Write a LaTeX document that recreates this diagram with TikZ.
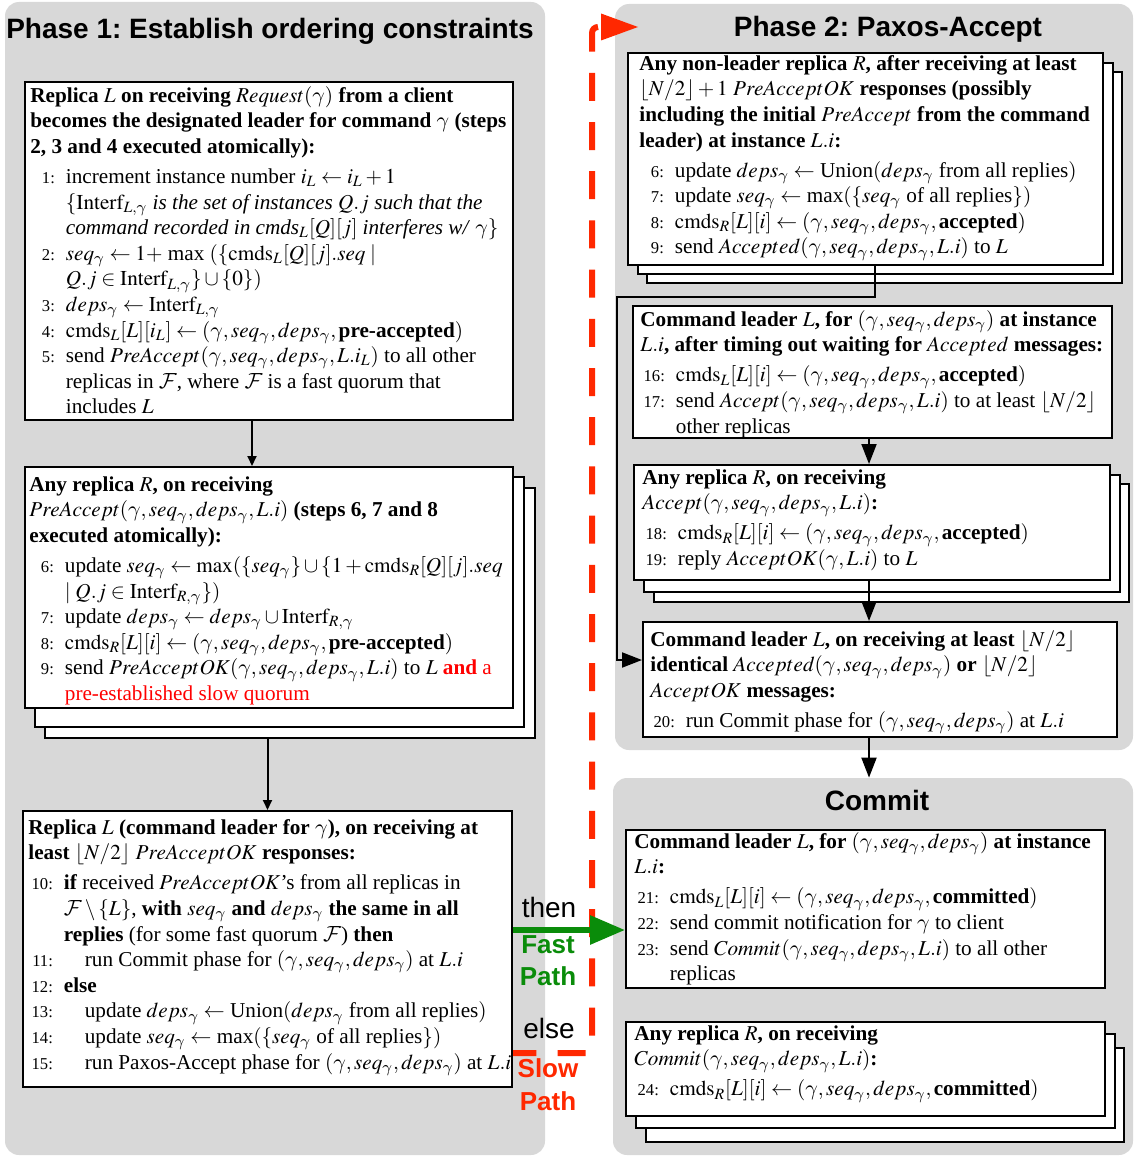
\documentclass[tikz,border=0pt]{standalone}
\usepackage{mathptmx}
\usepackage{fontspec}
\setmainfont{Liberation Serif}
\newfontfamily\hsans{Liberation Sans}
\usetikzlibrary{fit,arrows.meta}

% Computer Modern calligraphic letters and gamma
\DeclareMathAlphabet{\mathcal}{OMS}{cmsy}{m}{n}
\DeclareSymbolFont{cmletters}{OML}{cmm}{m}{it}
\DeclareMathSymbol{\gamma}{\mathord}{cmletters}{"0D}

\definecolor{panelgray}{RGB}{216,216,216}
\definecolor{slowred}{RGB}{255,40,0}
\definecolor{fastgreen}{RGB}{10,140,10}

\newcommand\bodyfont{\fontsize{10.6}{12.8}\selectfont}
\newcommand\numfont{\fontsize{8.3}{10}\selectfont}
% step number, right aligned, followed by the step text
\newcommand\nm[1]{\makebox[12.25pt][r]{\numfont #1}\hspace{5.5pt}}
% continuation line of a step
\newcommand\ct{\hspace*{17.75pt}}
% nested step inside if/else
\newcommand\nst{\hspace*{10.5pt}}
\newcommand\cmds{\mathrm{cmds}}
\newcommand\intf{\mathrm{Interf}}

\tikzset{
  panel/.style={fill=panelgray, rounded corners=7pt, inner sep=0pt},
  box/.style={draw, fill=white, line width=1pt, inner sep=0pt},
  txt/.style={anchor=north west, align=left, inner sep=0pt, font=\bodyfont},
  ptitle/.style={anchor=base, inner sep=0pt, font=\hsans\bfseries\fontsize{14}{16}\selectfont\frenchspacing},
  sidelbl/.style={anchor=base, inner sep=0pt, font=\hsans\fontsize{14}{16}\selectfont},
  pathlbl/.style={anchor=base, inner sep=0pt, font=\hsans\bfseries\fontsize{13}{16}\selectfont},
  arrS/.style={line width=1pt, -{Triangle[length=5pt,width=4.5pt]}},
  arrL/.style={line width=1pt, -{Triangle[length=10pt,width=7.5pt]}},
  fastarr/.style={draw=fastgreen, line width=3pt, -{Triangle[length=17.5pt,width=14pt]}},
  slowline/.style={draw=slowred, line width=3pt, dash pattern=on 14pt off 10.6pt,
    rounded corners=3pt},
}

\begin{document}
\begin{tikzpicture}[x=0.5pt,y=-0.5pt]
\useasboundingbox (0,0) rectangle (1135,1156);

% phase panels
\node[panel, fit={(5,2)(545,1155)}] (P1) {};
\node[panel, fit={(615,4)(1133,750)}] (P2) {};
\node[panel, fit={(613,778)(1133,1155)}] (P3) {};

\node[ptitle] (T1) at (270,39) {Phase 1: Establish ordering constraints};
\node[ptitle] (T2) at (888,37) {Phase 2: Paxos-Accept};
\node[ptitle] (T3) at (877,810) {Commit};

% ---------- Phase 1 ----------
\node[box, fit={(25,82)(513,420)}] (A) {};
\node[txt] (At) at (30,84) {\strut\textbf{Replica} $L$ \textbf{on receiving} $Request(\gamma)$ \textbf{from a client}\\
\textbf{becomes the designated leader for command} $\gamma$ \textbf{(steps}\\
\textbf{2, 3 and 4 executed atomically):}\\[2.2pt]
\nm{1:}increment instance number $i_L \leftarrow i_L+1$\\
\ct$\{\intf_{L,\gamma}$ \textit{is the set of instances} $Q.j$ \textit{such that the}\\
\ct\textit{command recorded in cmds}$_L[Q][j]$ \textit{interferes w/} $\gamma\}$\\
\nm{2:}$seq_\gamma \leftarrow 1+$ max $(\{\cmds_L[Q][j].seq \mid$\\
\ct$Q.j \in \intf_{L,\gamma}\} \cup \{0\})$\\
\nm{3:}$deps_\gamma \leftarrow \intf_{L,\gamma}$\\
\nm{4:}$\cmds_L[L][i_L] \leftarrow (\gamma, seq_\gamma, deps_\gamma,\,$\textbf{pre-accepted}$)$\\
\nm{5:}send $PreAccept(\gamma, seq_\gamma, deps_\gamma, L.i_L)$ to all other\\
\ct replicas in $\mathcal{F}$, where $\mathcal{F}$ is a fast quorum that\\
\ct includes $L$};

\node[box, fit={(45,488)(535,738)}] (B3) {};
\node[box, fit={(35,477)(524,727)}] (B2) {};
\node[box, fit={(25,467)(513,708)}] (B) {};
\node[txt] (Bt) at (29,473) {\strut\textbf{Any replica} $R$\textbf{, on receiving}\\
$PreAccept(\gamma,seq_\gamma,deps_\gamma,L.i)$ \textbf{(steps 6, 7 and 8}\\
\textbf{executed atomically):}\\[2.2pt]
\nm{6:}update $seq_\gamma \leftarrow \max(\{seq_\gamma\}\cup\{1+\cmds_R[Q][j].seq$\\
\ct$\mid Q.j \in \intf_{R,\gamma}\})$\\
\nm{7:}update $deps_\gamma \leftarrow deps_\gamma \cup \intf_{R,\gamma}$\\
\nm{8:}$\cmds_R[L][i] \leftarrow (\gamma,seq_\gamma,deps_\gamma,\,$\textbf{pre-accepted}$)$\\
\nm{9:}send $PreAcceptOK(\gamma,seq_\gamma,deps_\gamma,L.i)$ to $L$ \textcolor{red}{\textbf{and} a}\\
\ct\textcolor{red}{pre-established slow quorum}};

\node[box, fit={(23,811)(512,1087)}] (C) {};
\node[txt] (Ct) at (28,816) {\strut\textbf{Replica} $L$ \textbf{(command leader for} $\gamma$\textbf{), on receiving at}\\
\textbf{least} $\lfloor N/2\rfloor$ $PreAcceptOK$ \textbf{responses:}\\[2.2pt]
\nm{10:}\textbf{if} received $PreAcceptOK$'s from all replicas in\\
\ct$\mathcal{F}\setminus\{L\}$, \textbf{with} $seq_\gamma$ \textbf{and} $deps_\gamma$ \textbf{the same in all}\\
\ct\textbf{replies} (for some fast quorum $\mathcal{F}$) \textbf{then}\\
\nm{11:}\nst run Commit phase for $(\gamma,seq_\gamma,deps_\gamma)$ at $L.i$\\
\nm{12:}\textbf{else}\\
\nm{13:}\nst update $deps_\gamma \leftarrow$ Union$(deps_\gamma$ from all replies$)$\\
\nm{14:}\nst update $seq_\gamma \leftarrow$ max$(\{seq_\gamma$ of all replies$\})$\\
\nm{15:}\nst run Paxos-Accept phase for $(\gamma,seq_\gamma,deps_\gamma)$ at $L.i$};

\draw[arrS] ([xshift=-8.5pt]A.south) -- ([xshift=-8.5pt]B.north);
\draw[arrS] (B3.south -| C.north) -- (C.north);

% ---------- Phase 2 ----------
\node[box, fit={(647,72)(1122,283)}] (D3) {};
\node[box, fit={(638,63)(1113,274)}] (D2) {};
\node[box, fit={(628,53)(1103,265)}] (D) {};
\node[txt] (Dt) at (639,52) {\strut\textbf{Any non-leader replica} $R$\textbf{, after receiving at least}\\
$\lfloor N/2\rfloor+1$ $PreAcceptOK$ \textbf{responses (possibly}\\
\textbf{including the initial} $PreAccept$ \textbf{from the command}\\
\textbf{leader) at instance} $L.i$\textbf{:}\\[2.2pt]
\nm{6:}update $deps_\gamma \leftarrow$ Union$(deps_\gamma$ from all replies$)$\\
\nm{7:}update $seq_\gamma \leftarrow$ max$(\{seq_\gamma$ of all replies$\})$\\
\nm{8:}$\cmds_R[L][i] \leftarrow (\gamma,seq_\gamma,deps_\gamma,\,$\textbf{accepted}$)$\\
\nm{9:}send $Accepted(\gamma,seq_\gamma,deps_\gamma,L.i)$ to $L$};

\node[box, fit={(633,306)(1112,438)}] (E) {};
\node[txt] (Et) at (640,308) {\strut\textbf{Command leader} $L$\textbf{, for} $(\gamma,seq_\gamma,deps_\gamma)$ \textbf{at instance}\\
$L.i$\textbf{, after timing out waiting for} $Accepted$ \textbf{messages:}\\[2.2pt]
\nm{16:}$\cmds_L[L][i]\leftarrow(\gamma,seq_\gamma,deps_\gamma,\,$\textbf{accepted}$)$\\
\nm{17:}send $Accept(\gamma,seq_\gamma,deps_\gamma,L.i)$ to at least $\lfloor N/2\rfloor$\\
\ct other replicas};

\node[box, fit={(654,484)(1129,602)}] (F3) {};
\node[box, fit={(644,475)(1120,592)}] (F2) {};
\node[box, fit={(634,465)(1110,580)}] (F) {};
\node[txt] (Ft) at (642,466) {\strut\textbf{Any replica} $R$\textbf{, on receiving}\\
$Accept(\gamma,seq_\gamma,deps_\gamma,L.i)$\textbf{:}\\[2.2pt]
\nm{18:}$\cmds_R[L][i]\leftarrow(\gamma,seq_\gamma,deps_\gamma,\,$\textbf{accepted}$)$\\
\nm{19:}reply $AcceptOK(\gamma,L.i)$ to $L$};

\node[box, fit={(643,622)(1117,737)}] (G) {};
\node[txt] (Gt) at (650,628) {\strut\textbf{Command leader} $L$\textbf{, on receiving at least} $\lfloor N/2\rfloor$\\
\textbf{identical} $Accepted(\gamma,seq_\gamma,deps_\gamma)$ \textbf{or} $\lfloor N/2\rfloor$\\
$AcceptOK$ \textbf{messages:}\\[2.2pt]
\nm{20:}run Commit phase for $(\gamma,seq_\gamma,deps_\gamma)$ at $L.i$};

\coordinate (elbow) at (617,297);
\draw[arrL] ([xshift=4.75pt]D.south) |- (elbow) |- ([yshift=9.75pt]G.west);
\draw[arrL] ([xshift=-1.75pt]E.south) -- ([xshift=-1.75pt]E.south |- F.north);
\draw[arrL] ([xshift=-1.5pt]F.south) -- ([xshift=-1.5pt]F.south |- G.north);
\draw[arrL] ([xshift=-1.5pt]F.south |- G.south) -- ([xshift=-1.5pt]F.south |- P3.north);

% ---------- Commit ----------
\node[box, fit={(626,830)(1105,988)}] (H) {};
\node[txt] (Ht) at (634,830) {\strut\textbf{Command leader} $L$\textbf{, for} $(\gamma,seq_\gamma,deps_\gamma)$ \textbf{at instance}\\
$L.i$\textbf{:}\\[2.2pt]
\nm{21:}$\cmds_L[L][i]\leftarrow(\gamma,seq_\gamma,deps_\gamma,\,$\textbf{committed}$)$\\
\nm{22:}send commit notification for $\gamma$ to client\\
\nm{23:}send $Commit(\gamma,seq_\gamma,deps_\gamma,L.i)$ to all other\\
\ct replicas};

\node[box, fit={(646,1048)(1124,1142)}] (I3) {};
\node[box, fit={(636,1034)(1115,1128)}] (I2) {};
\node[box, fit={(626,1022)(1105,1116)}] (I) {};
\node[txt] (It) at (634,1022) {\strut\textbf{Any replica} $R$\textbf{, on receiving}\\
$Commit(\gamma,seq_\gamma,deps_\gamma,L.i)$\textbf{:}\\[2.2pt]
\nm{24:}$\cmds_R[L][i]\leftarrow(\gamma,seq_\gamma,deps_\gamma,\,$\textbf{committed}$)$};

% ---------- fast / slow path ----------
\node[sidelbl] (thenl) at (549,917) {then};
\node[pathlbl, text=fastgreen] (fast1) at (548,953) {Fast};
\node[pathlbl, text=fastgreen] (fast2) at (548,985) {Path};
\node[sidelbl] (elsel) at (549,1038) {else};
\node[pathlbl, text=slowred] (slow1) at (548,1077) {Slow};
\node[pathlbl, text=slowred] (slow2) at (548,1110) {Path};

% slow path: dashed line from the top arrow head down and back to box C
\coordinate (slowstart) at (598,27);
\coordinate (slowbend) at (592,1053);
\coordinate (slowtip) at (638,27);
\draw[slowline] (slowstart) -| (slowbend) -- ([yshift=-52pt]C.east);
\fill[slowred] (601,13.5) -- (slowtip) -- (601,40.5) -- cycle;
\draw[fastarr] ([yshift=9.5pt]C.east) -- ([yshift=9.5pt]C.east -| H.west);
\end{tikzpicture}
\end{document}
